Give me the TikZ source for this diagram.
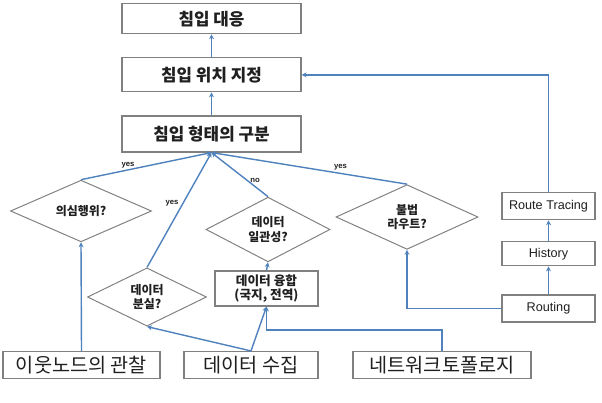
\documentclass[tikz,border=0pt]{standalone}
\usepackage{fontspec}
\usepackage{xcolor}
\usepackage{tikz}
\usetikzlibrary{shapes.geometric, arrows.meta, positioning, calc}
\setmainfont{Liberation Sans}
\newfontfamily\kr{Noto Sans CJK KR}
\definecolor{myblue}{RGB}{79,129,189}
\definecolor{mygray}{RGB}{128,128,128}
\definecolor{mytext}{RGB}{32,32,32}
\tikzset{
  topbox/.style={rectangle, draw=mygray, fill=white,
    minimum width=4.475cm, align=center, inner sep=0pt,
    font=\kr\fontsize{12}{14}\selectfont\bfseries, text=mytext, line width=0.8pt},
  srcbox/.style={rectangle, draw=mygray, fill=white,
    minimum height=0.675cm, align=center, inner sep=0pt,
    font=\kr\fontsize{14}{16}\selectfont, text=mytext, line width=0.8pt},
  routebox/.style={rectangle, draw=mygray, fill=white,
    minimum width=2.325cm, align=center, inner sep=0pt,
    font=\fontsize{9}{11}\selectfont, text=mytext, line width=0.8pt},
  fusebox/.style={rectangle, draw=mygray, fill=white,
    minimum width=2.575cm, minimum height=0.875cm, align=center, inner sep=0pt,
    font=\kr\fontsize{9}{10.5}\selectfont\bfseries, text=mytext, line width=0.8pt},
  decision/.style={diamond, draw=mygray, fill=white, inner sep=0pt,
    align=center, font=\kr\fontsize{8.5}{10}\selectfont\bfseries,
    text=mytext, line width=0.7pt},
  arrow/.style={-{Stealth[length=3.5pt, width=3.5pt]}, line width=1pt, color=myblue},
  line/.style={line width=1pt, color=myblue},
  lbl/.style={font=\fontsize{5.5}{6}\selectfont\bfseries, text=mytext, inner sep=0.8pt}
}
\begin{document}
\begin{tikzpicture}[x=0.025cm, y=0.025cm]
  \useasboundingbox (0,0) rectangle (602,402);

  % main column
  \node[topbox, minimum height=0.9cm] (classify) at (211.5,268) {침입 형태의 구분};
  \node[topbox, minimum height=0.85cm, above=0.575cm of classify] (locate) {침입 위치 지정};
  \node[topbox, minimum height=0.75cm, above=0.575cm of locate] (resp) {침입 대응};

  % decisions
  \node[decision, minimum width=3.525cm, minimum height=1.275cm] (suspect) at (81,191) {의심행위?};
  \node[decision, minimum width=2.975cm, minimum height=1.275cm] (loss) at (147,105) {데이터\\분실?};
  \node[decision, minimum width=3.1cm, minimum height=1.325cm] (consist) at (268,172.5) {데이터\\일관성?};
  \node[decision, minimum width=3.55cm, minimum height=1.25cm] (illegal) at (407,185) {불법\\라우트?};
  \node[fusebox] (fusion) at (266.5,113.5) {데이터 융합\\(국지, 전역)};

  % routing column
  \node[routebox, minimum height=0.675cm] (routing) at (548.5,93.5) {Routing};
  \node[routebox, minimum height=0.6cm, above=0.7cm of routing] (hist) {History};
  \node[routebox, minimum height=0.675cm, above=0.525cm of hist] (rtrace) {Route Tracing};

  % sources
  \node[srcbox, minimum width=3.925cm] (observe) at (81.5,37) {이웃노드의 관찰};
  \node[srcbox, minimum width=3.35cm] (collect) at (251,37) {데이터 수집};
  \node[srcbox, minimum width=4.45cm] (topo) at (442,37) {네트워크토폴로지};

  \draw[arrow] (locate) -- (resp);
  \draw[arrow] (classify) -- (locate);

  \draw[arrow] (suspect.north) -- node[lbl, pos=0.36, above] {yes} (classify.south);
  \draw[arrow] (loss.north) -- node[lbl, pos=0.56, left=2pt] {yes} (classify.south);
  \draw[arrow] (consist.north) -- node[lbl, pos=0.37, right=1pt] {no} (classify.south);
  \draw[arrow] (illegal.north) -- node[lbl, pos=0.34, above=1pt] {yes} (classify.south);

  \draw[arrow] (observe.north) -- (suspect.south);
  \draw[arrow] (collect.north) -- (loss.south);
  \draw[arrow] (collect.north) -- (fusion.south);
  \draw[arrow] (topo.north) -- ++(0,21) -| (fusion.south);
  \draw[arrow] (fusion.north) -- (consist.south);

  \draw[arrow] (routing.west) -| (illegal.south);
  \draw[arrow] (routing) -- (hist);
  \draw[arrow] (hist) -- (rtrace);
  \draw[arrow] (rtrace.north) |- (locate.east);
\end{tikzpicture}
\end{document}
